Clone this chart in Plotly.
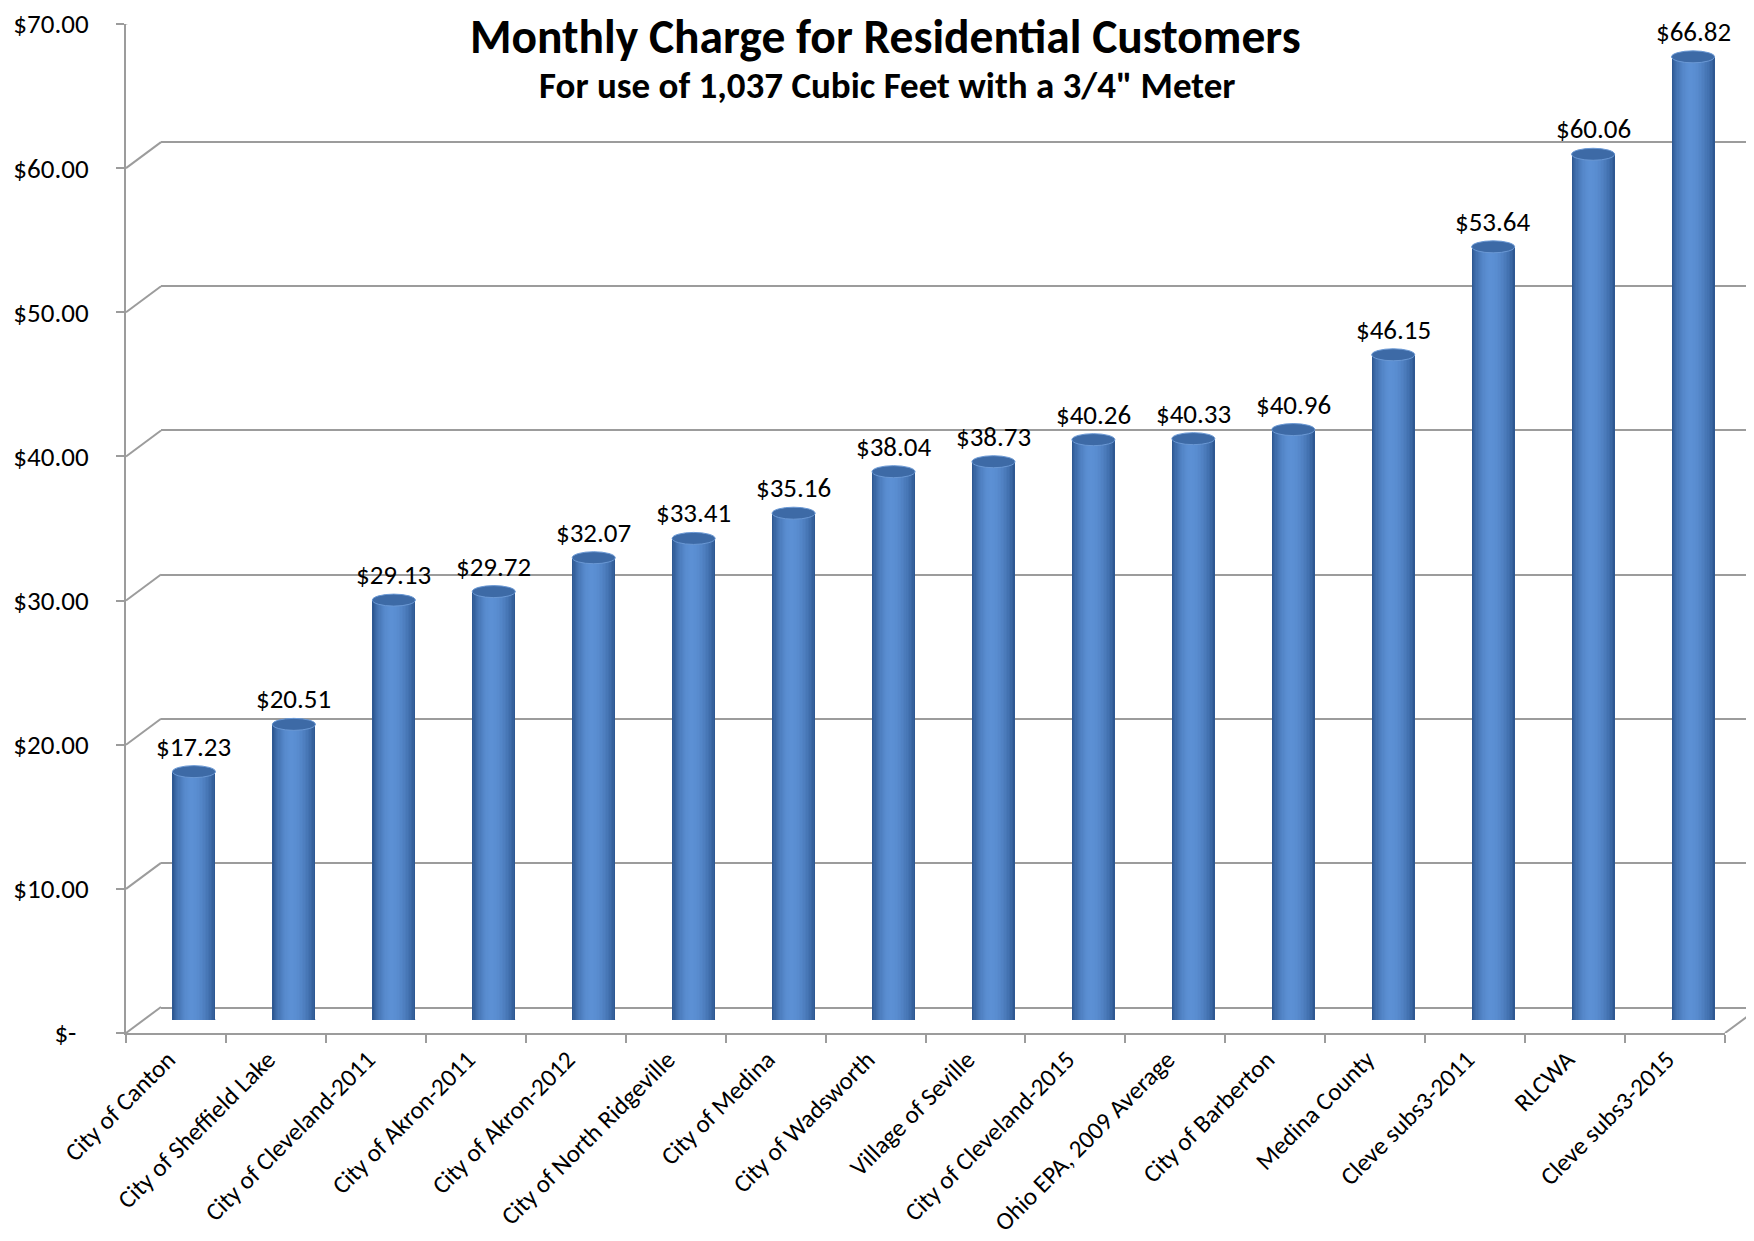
import math
import plotly.graph_objects as go

# ---------------- data ----------------
categories = [
    "City of Canton", "City of Sheffield Lake", "City of Cleveland-2011",
    "City of Akron-2011", "City of Akron-2012", "City of North Ridgeville",
    "City of Medina", "City of Wadsworth", "Village of Seville",
    "City of Cleveland-2015", "Ohio EPA, 2009 Average", "City of Barberton",
    "Medina County", "Cleve subs3-2011", "RLCWA", "Cleve subs3-2015",
]
charges = [17.23, 20.51, 29.13, 29.72, 32.07, 33.41, 35.16, 38.04, 38.73,
           40.26, 40.33, 40.96, 46.15, 53.64, 60.06, 66.82]
y_tick_values = [0, 10, 20, 30, 40, 50, 60, 70]
y_tick_labels = ["$-\u00a0\u00a0", "$10.00", "$20.00", "$30.00", "$40.00",
                 "$50.00", "$60.00", "$70.00"]
title_text = "Monthly Charge for Residential Customers"
subtitle_text = "For use of 1,037 Cubic Feet with a 3/4\" Meter"

# ---------------- layout geometry (pixels) ----------------
W, H = 1754, 1241
FONT = "Calibri, Carlito, Lato, sans-serif"
GRID = "#9c9c9c"
LABEL_SIZE = 27
CAT_SIZE = 25

FRONT_LEFT, FRONT_RIGHT = 118, 1717
FRONT_ZERO, FRONT_TOP = 1025, 16
PX_PER_UNIT = (FRONT_ZERO - FRONT_TOP) / 70.0
DEPTH_DX, DEPTH_DY = 35, 26   # back wall offset
MID_DX, MID_DY = 18, 13       # bar plane offset
BAR_W = 0.43


def fx(x):
    return x / W


def fy(y):
    return 1 - y / H


fig = go.Figure()

# ---------------- cylinders (nested bars for shading) ----------------
dark = (46, 88, 146)
light = (92, 144, 212)
K = 16
h = -0.06 * BAR_W  # highlight position relative to centre
for k in range(K):
    f = k / K
    left = -BAR_W / 2 + f * (BAR_W / 2 + h)
    right = BAR_W / 2 - f * (BAR_W / 2 - h)
    t = math.sin(f * math.pi / 2) ** 0.8
    col = tuple(int(round(dark[i] + (light[i] - dark[i]) * t)) for i in range(3))
    fig.add_trace(go.Bar(
        x=categories, y=charges, xaxis="x3", yaxis="y3",
        width=right - left, offset=left,
        marker=dict(color="rgb(%d,%d,%d)" % col, line=dict(width=0)),
        hoverinfo="skip", showlegend=False,
    ))

shapes = []
# top and bottom ellipses of cylinders
for i, v in enumerate(charges):
    shapes.append(dict(
        type="circle", xref="x3", yref="y3",
        x0=i - BAR_W / 2, x1=i + BAR_W / 2,
        ysizemode="pixel", yanchor=v, y0=-6, y1=6,
        fillcolor="#3d6aa6", line=dict(color="#6a98d4", width=1),
        layer="above",
    ))
    shapes.append(dict(
        type="circle", xref="x3", yref="y3",
        x0=i - BAR_W / 2, x1=i + BAR_W / 2,
        ysizemode="pixel", yanchor=0, y0=-6, y1=6,
        fillcolor="#4273b3", line=dict(width=0),
        layer="below",
    ))

# perspective diagonals at each y tick (front axis -> back wall)
for t in y_tick_values:
    shapes.append(dict(
        type="line", xref="paper", yref="y",
        xsizemode="pixel", xanchor=fx(FRONT_LEFT), x0=0, x1=DEPTH_DX,
        ysizemode="pixel", yanchor=t, y0=0, y1=DEPTH_DY,
        line=dict(color=GRID, width=2), layer="below",
    ))
# right floor diagonal
shapes.append(dict(
    type="line", xref="paper", yref="y",
    xsizemode="pixel", xanchor=fx(FRONT_RIGHT), x0=0, x1=DEPTH_DX,
    ysizemode="pixel", yanchor=0, y0=0, y1=DEPTH_DY,
    line=dict(color=GRID, width=2), layer="below",
))

# ---------------- data labels ----------------
annotations = []
for c, v in zip(categories, charges):
    annotations.append(dict(
        x=c, y=v, xref="x3", yref="y3", text="$%.2f" % v,
        showarrow=False, yanchor="bottom", yshift=7,
        font=dict(family=FONT, size=LABEL_SIZE, color="#000000"),
    ))
annotations.append(dict(
    x=fx(877), y=fy(29), xref="paper", yref="paper", text="<b>%s</b>" % title_text,
    showarrow=False, xanchor="center", yanchor="middle",
    font=dict(family=FONT, size=47.5, color="#000000"),
))
annotations.append(dict(
    x=fx(879), y=fy(77), xref="paper", yref="paper", text="<b>%s</b>" % subtitle_text,
    showarrow=False, xanchor="center", yanchor="middle",
    font=dict(family=FONT, size=37, color="#000000"),
))

# invisible trace to activate front axes
fig.add_trace(go.Scatter(x=categories, y=[None] * len(categories), xaxis="x", yaxis="y",
                         mode="markers", showlegend=False, hoverinfo="skip"))
# invisible trace to activate back axes
fig.add_trace(go.Scatter(x=[0], y=[None], xaxis="x2", yaxis="y2",
                         mode="markers", showlegend=False, hoverinfo="skip"))

fig.update_layout(
    template="none",
    width=W, height=H,
    margin=dict(l=0, r=0, t=0, b=0, autoexpand=False),
    paper_bgcolor="white", plot_bgcolor="rgba(0,0,0,0)",
    barmode="overlay", bargap=0,
    showlegend=False,
    font=dict(family=FONT, color="#000000"),
    # front axes (labels)
    xaxis=dict(
        domain=[fx(FRONT_LEFT), fx(FRONT_RIGHT)], anchor="y", automargin=False,
        type="category", categoryorder="array", categoryarray=categories,
        range=[-0.5, len(categories) - 0.5],
        tickson="boundaries", ticks="outside", ticklen=8, tickwidth=2,
        tickcolor=GRID, showline=True, linecolor=GRID, linewidth=2,
        showgrid=False, zeroline=False, tickangle=-45,
        ticklabelshift=-8, ticklabeloverflow="allow",
        tickfont=dict(family=FONT, size=CAT_SIZE, color="#000000"),
    ),
    yaxis=dict(
        domain=[fy(FRONT_ZERO), fy(FRONT_TOP)], anchor="x", automargin=False,
        range=[0, 70], tickvals=y_tick_values, ticktext=y_tick_labels,
        ticks="outside", ticklen=8, tickwidth=2, tickcolor=GRID,
        showline=True, linecolor=GRID, linewidth=2,
        showgrid=False, zeroline=False, ticklabelstandoff=22,
        ticklabeloverflow="allow",
        tickfont=dict(family=FONT, size=LABEL_SIZE, color="#000000"),
    ),
    # back wall gridlines
    xaxis2=dict(
        domain=[fx(FRONT_LEFT + DEPTH_DX), fx(W - 1)], anchor="y2", automargin=False,
        range=[0, 1], visible=True, showticklabels=False, ticks="",
        showgrid=False, zeroline=False, showline=True, linecolor=GRID, linewidth=2,
    ),
    yaxis2=dict(
        domain=[fy(FRONT_ZERO - DEPTH_DY), 1], anchor="x2", automargin=False,
        range=[0, (FRONT_ZERO - DEPTH_DY) / PX_PER_UNIT],
        tickvals=y_tick_values, showticklabels=False, ticks="",
        showgrid=True, gridcolor=GRID, gridwidth=2, zeroline=False, showline=False,
    ),
    # bar plane
    xaxis3=dict(
        domain=[fx(FRONT_LEFT + MID_DX), fx(FRONT_RIGHT + MID_DX)], anchor="y3",
        automargin=False,
        type="category", categoryorder="array", categoryarray=categories,
        range=[-0.5, len(categories) - 0.5], visible=False,
    ),
    yaxis3=dict(
        domain=[fy(FRONT_ZERO - MID_DY), 1], anchor="x3", automargin=False,
        range=[0, (FRONT_ZERO - MID_DY) / PX_PER_UNIT], visible=False,
    ),
    shapes=shapes,
    annotations=annotations,
)

fig.write_html("out.html")
